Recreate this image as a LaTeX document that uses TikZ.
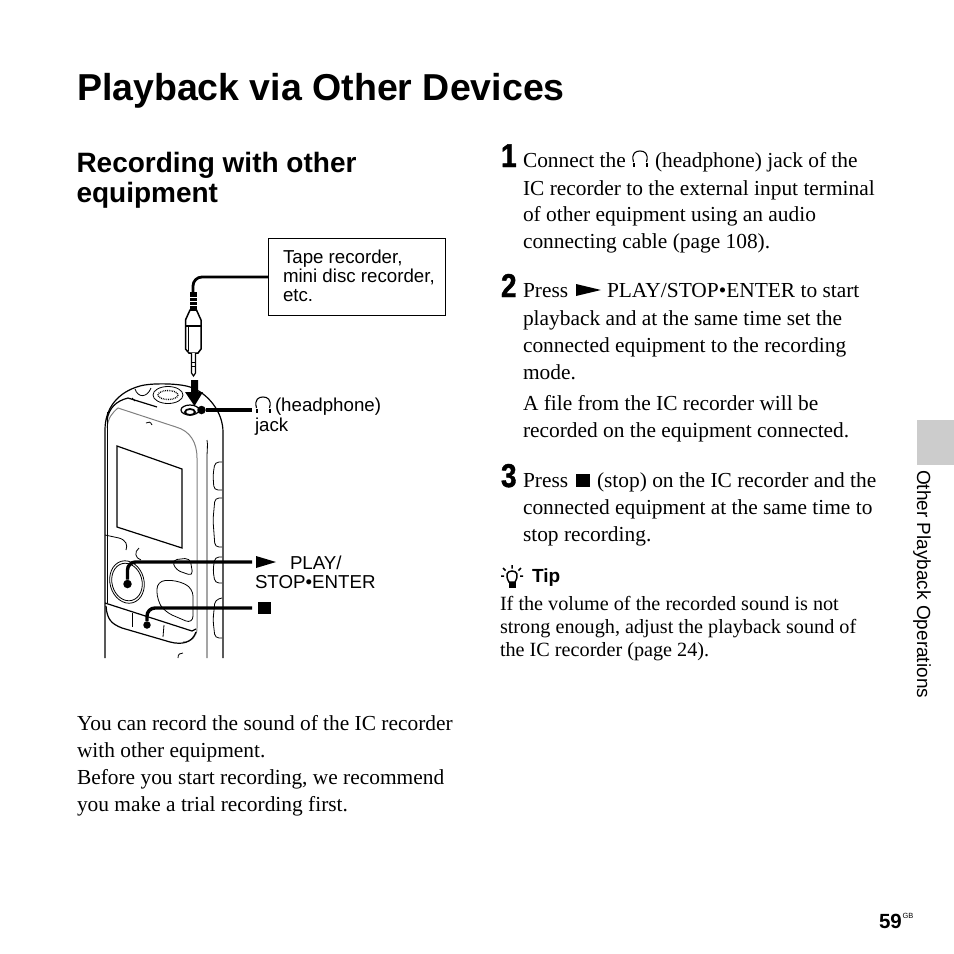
\documentclass[tikz,border=0pt]{standalone}
\usepackage{fontspec}
\setmainfont{Liberation Serif}
\setsansfont{Liberation Sans}
\newfontfamily\stepfont[FakeStretch=0.85,BoldFeatures={FakeBold=1.2}]{Liberation Sans}
\tikzset{
    line/.style={anchor=base west, inner sep=0pt, outer sep=0pt},
    bodyline/.style={line, font=\fontsize{21.4}{24}\selectfont},
    tipline/.style={line, font=\fontsize{20.2}{22}\selectfont},
    calloutline/.style={line, font=\sffamily\fontsize{18.7}{21}\selectfont},
    stepnum/.style={line, font=\stepfont\bfseries\fontsize{33}{36}\selectfont},
    device/.style={draw=black, line width=1.2pt},
    devicefine/.style={draw=black, line width=0.8pt},
    bezel/.style={draw=black!50, line width=1pt},
    leader/.style={draw=black, line width=3.4pt, rounded corners=8pt},
    cable/.style={draw=black, line width=2.8pt, rounded corners=9pt},
    dotend/.style={circle, fill=black, inner sep=0pt, minimum size=8.5pt}
}
\newcommand{\phones}[2]{%
    \draw[line width=1.1pt] (#1-6.5,#2+11) .. controls (#1-9,#2+2) and (#1-4,#2) .. (#1,#2) .. controls (#1+4,#2) and (#1+9,#2+2) .. (#1+6.5,#2+11);
    \fill (#1-7.5,#2+12) rectangle (#1-5.5,#2+16);
    \fill (#1+5.5,#2+12) rectangle (#1+7.5,#2+16);
}
\begin{document}
\begin{tikzpicture}[x=1pt,y=-1pt]
    \useasboundingbox (0,0) rectangle (954,954);

    %page headings
    \node[line, font=\sffamily\bfseries\fontsize{37.5}{42}\selectfont] (title) at (77,100) {Playback via Other Devices};
    \node[line, font=\sffamily\bfseries\fontsize{28}{30}\selectfont] (heada) at (76.5,172) {Recording with other};
    \node[line, font=\sffamily\bfseries\fontsize{28}{30}\selectfont] (headb) at (76.5,202) {equipment};

    %recorder body
    \draw[device] (105,658) -- (105,430) .. controls (105,408) and (118,392) .. (140,386)
        .. controls (150,383) and (178,383) .. (190,387)
        .. controls (208,393) and (223,412) .. (223,432) -- (223,658);
    \draw[devicefine] (135,389) .. controls (138,398) and (147,398) .. (151,388);
    \draw[devicefine] (207,440) .. controls (208,445) and (207,450) .. (207,458) -- (207,658);
    \draw[devicefine, densely dotted, line width=1.4pt] (168,395) ellipse[x radius=10, y radius=4.5];
    \draw[devicefine] (168,395) ellipse[x radius=15, y radius=8.5];
    \draw[devicefine] (132,398) -- (135,401);
    \draw[devicefine] (146,423) .. controls (148,421) and (151,422) .. (152,425);
    \draw[device] (107,420) .. controls (109,408) and (116,401) .. (128,398) -- (157,407);

    %screen surround
    \draw[bezel] (107,428) .. controls (108,418) and (112,413) .. (118,408)
        -- (176,427) .. controls (190,431) and (197,442) .. (197,458) -- (197,628)
        .. controls (197,636) and (192,642) .. (183,642);
    \draw[devicefine] (107,412) -- (107,603);
    \draw[device] (117,446) -- (182,469) -- (182,548) -- (117,527) -- cycle;

    %front keys
    \draw[device] (105,603) -- (192,631) -- (196,629);
    \draw[device] (106,606) .. controls (107,620) and (112,624) .. (122,628) -- (170,642) .. controls (182,645) and (192,643) .. (196,632);
    \draw[devicefine] (132,613) -- (132,627);
    \draw[devicefine] (164,625) -- (163,637);
    \draw[devicefine] (105,535) -- (119,538) .. controls (126,540) and (128,545) .. (126,550);
    \draw[devicefine] (139,548) .. controls (134,552) and (135,558) .. (141,560);
    \draw[devicefine, shift={(127,582)}, rotate=15] (0,0) ellipse[x radius=15, y radius=19];
    \draw[devicefine, shift={(127,582)}, rotate=15] (0,0) ellipse[x radius=17, y radius=21.5];
    \draw[devicefine, rounded corners=8pt] (157,581) -- (176,580) -- (193,588) -- (193,624) -- (165,612) -- (157,600) -- cycle;
    \draw[devicefine, rounded corners=5pt] (172,560) -- (190,558) -- (193,576) -- (176,570) -- cycle;
    \draw[devicefine] (178,658) .. controls (178,654) and (180,653) .. (183,653);

    %side keys
    \draw[devicefine, rounded corners=4pt] (222,462) -- (215,462) -- (213,475) -- (214,490) -- (222,490);
    \draw[devicefine, rounded corners=4pt] (222,498) -- (215,498) -- (213,520) -- (215,547) -- (222,547);
    \draw[devicefine, rounded corners=4pt] (222,557) -- (215,557) -- (213,570) -- (215,583) -- (222,583);
    \draw[devicefine, rounded corners=4pt] (222,598) -- (215,600) -- (213,620) -- (215,638) -- (222,638);

    %plug
    \fill[black] (190,292) rectangle (196.5,310);
    \draw[white, line width=0.7pt] (190,297) -- (196.5,297) (190,301) -- (196.5,301) (190,305) -- (196.5,305);
    \draw[device, fill=white, line width=1.5pt] (190,310) -- (185.5,320) -- (185.5,349) -- (189,353) -- (198,353) -- (201,349) -- (201,320) -- (196.5,310) -- cycle;
    \draw[device] (185.5,326) -- (201,326);
    \draw[devicefine] (188,326) -- (188,351);
    \draw[device, fill=white] (191.5,353) -- (191.5,373) -- (193.5,376) -- (195.5,373) -- (195.5,353);
    \draw[devicefine] (191.5,362) -- (195.5,362) (191.5,366) -- (195.5,366);
    \coordinate (plugtop) at (193,293);

    %jack with arrow
    \draw[device] (190,410) ellipse[x radius=9, y radius=5];
    \draw[device, line width=1.8pt] (190,412) ellipse[x radius=5, y radius=3];
    \fill[black] (191,380) -- (198,380) -- (198,392) -- (203,392) -- (194.5,406) -- (185,392) -- (191,392) -- cycle;

    %callouts
    \node[draw=black, line width=1pt, minimum width=177pt, minimum height=77pt, inner sep=0pt, anchor=north west] (tapebox) at (268,238) {};
    \node[calloutline] (tapea) at (283,263) {Tape recorder,};
    \node[calloutline] (tapeb) at (283,282) {mini disc recorder,};
    \node[calloutline] (tapec) at (283,301) {etc.};
    \draw[cable] (tapebox.west) -| (plugtop);

    \phones{263}{397}
    \node[calloutline] (hpa) at (275,411) {(headphone)};
    \node[calloutline] (hpb) at (255,431) {jack};
    \node[dotend] (jackdot) at (201.5,410) {};
    \coordinate (jackend) at (252,410);
    \draw[leader] (jackdot) -- (jackend);

    \fill[black] (256,556) -- (276,562) -- (256,568) -- cycle;
    \node[calloutline] (playa) at (290,569) {PLAY/};
    \node[calloutline] (playb) at (255,588) {STOP•ENTER};
    \node[dotend] (playdot) at (127.5,584) {};
    \coordinate (playend) at (252,562);
    \draw[leader] (playdot) |- (playend);

    \fill[black] (258,602) rectangle (271,614);
    \node[dotend, minimum size=7.5pt] (stopdot) at (147,625) {};
    \coordinate (stopend) at (252,608);
    \draw[leader] (stopdot) |- (stopend);

    %left column text
    \node[bodyline] (intoa) at (77,730) {You can record the sound of the IC recorder};
    \node[bodyline] (intob) at (77,757) {with other equipment.};
    \node[bodyline] (intoc) at (77,784) {Before you start recording, we recommend};
    \node[bodyline] (intod) at (77,811) {you make a trial recording first.};

    %step 1
    \node[stepnum] (numa) at (501,167) {1};
    \node[bodyline] (stepaa) at (523,167) {Connect the};
    \phones{640}{151}
    \node[bodyline] (stepab) at (655,167) {(headphone) jack of the};
    \node[bodyline] (stepac) at (523,195) {IC recorder to the external input terminal};
    \node[bodyline] (stepad) at (523,221) {of other equipment using an audio};
    \node[bodyline] (stepae) at (523,248) {connecting cable (page 108).};

    %step 2
    \node[stepnum] (numb) at (501,297) {2};
    \node[bodyline] (stepba) at (523,297) {Press};
    \fill[black] (576,284) -- (601,290) -- (576,296) -- cycle;
    \node[bodyline] (stepbb) at (607,297) {PLAY/STOP•ENTER to start};
    \node[bodyline] (stepbc) at (523,325) {playback and at the same time set the};
    \node[bodyline] (stepbd) at (523,352) {connected equipment to the recording};
    \node[bodyline] (stepbe) at (523,379) {mode.};
    \node[bodyline] (stepbf) at (523,410) {A file from the IC recorder will be};
    \node[bodyline] (stepbg) at (523,437) {recorded on the equipment connected.};

    %step 3
    \node[stepnum] (numc) at (501,487) {3};
    \node[bodyline] (stepca) at (523,487) {Press};
    \fill[black] (576,474) rectangle (589.5,487);
    \node[bodyline] (stepcb) at (597,487) {(stop) on the IC recorder and the};
    \node[bodyline] (stepcc) at (523,514) {connected equipment at the same time to};
    \node[bodyline] (stepcd) at (523,541) {stop recording.};

    %tip
    \draw[line width=1.5pt] (509,582) .. controls (505,575) and (507,571) .. (512,571) .. controls (517,571) and (519,575) .. (515,582) -- cycle;
    \fill[black] (508.5,582) rectangle (515.5,588);
    \draw[line width=1.5pt] (512,565) -- (512,568.5) (503,568) -- (505.5,570.5) (521,568) -- (518.5,570.5) (501,576) -- (504,576) (523,576) -- (520,576);
    \node[line, font=\sffamily\bfseries\fontsize{19}{22}\selectfont] (tiphead) at (532,582) {Tip};
    \node[tipline] (tipa) at (500,610) {If the volume of the recorded sound is not};
    \node[tipline] (tipb) at (500,633) {strong enough, adjust the playback sound of};
    \node[tipline] (tipc) at (500,656) {the IC recorder (page 24).};

    %side tab and page number
    \fill[black!20] (917,420) rectangle (954,465);
    \node[line, font=\sffamily\fontsize{19}{21}\selectfont, rotate=-90] (sidetab) at (917,470) {Other Playback Operations};
    \node[line, font=\sffamily\bfseries\fontsize{20.5}{24}\selectfont] (pagenum) at (879,928) {59};
    \node[line, font=\sffamily\fontsize{7.5}{9}\selectfont] (pagegb) at (902.5,918) {GB};
\end{tikzpicture}
\end{document}
